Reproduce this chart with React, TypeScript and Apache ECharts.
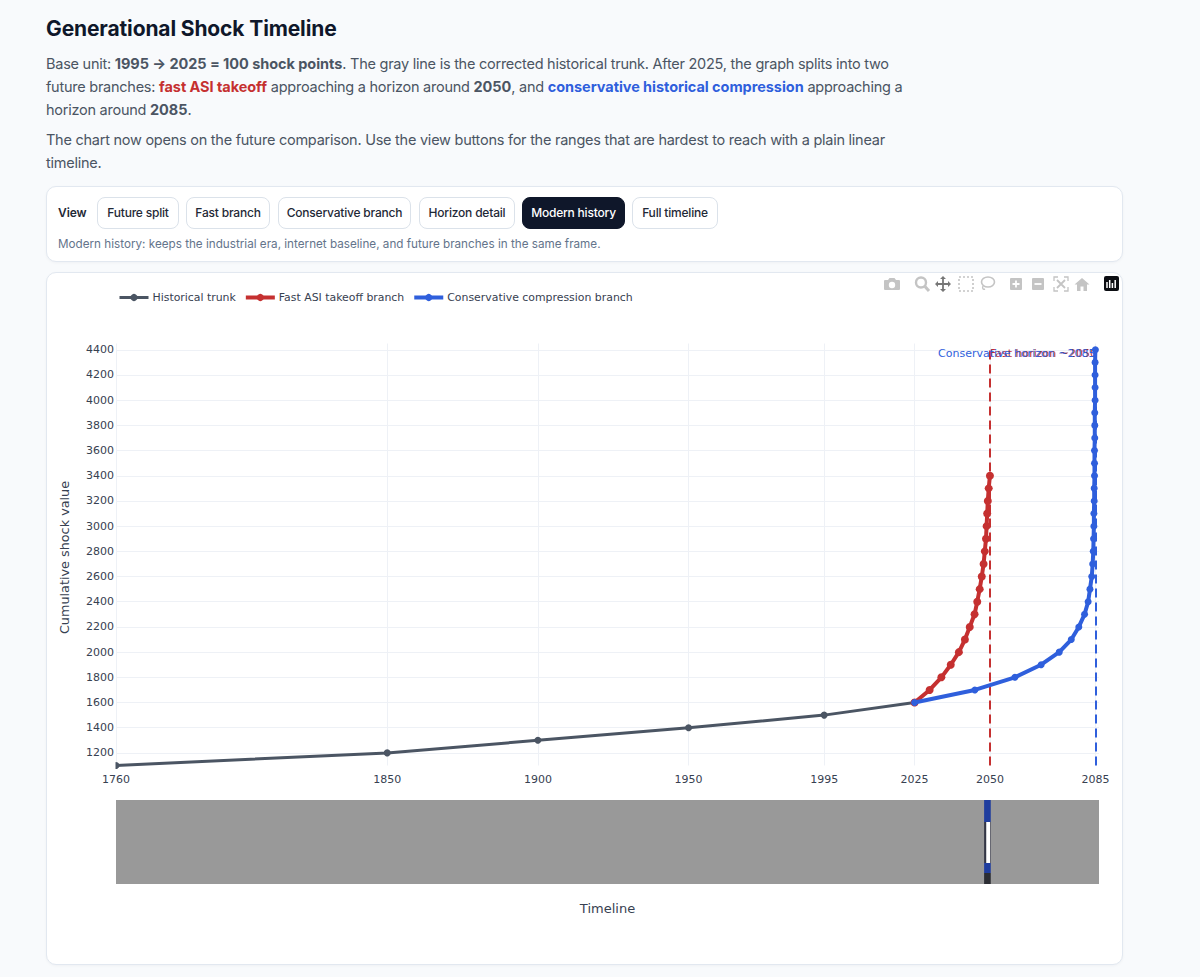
import React, { useEffect, useRef } from "react";
import * as echarts from "echarts";

const xTicks = [1760, 1850, 1900, 1950, 1995, 2025, 2050, 2085];
const yTicks = [1200, 1400, 1600, 1800, 2000, 2200, 2400, 2600, 2800, 3000, 3200, 3400, 3600, 3800, 4000, 4200, 4400];

const trunkYears = [1760, 1850, 1900, 1950, 1995, 2025];
const trunkValues = [1100, 1200, 1300, 1400, 1500, 1600];

const fastYears = [2025, 2030, 2033.9, 2037, 2039.7, 2041.7, 2043.3, 2044.9, 2045.8, 2046.6, 2047.3, 2047.9, 2048.3, 2048.7, 2048.9, 2049.1, 2049.3, 2049.6, 2050];
const fastValues = [1600, 1700, 1800, 1900, 2000, 2100, 2200, 2300, 2400, 2500, 2600, 2700, 2800, 2900, 3000, 3100, 3200, 3300, 3400];

const consYears = [2025, 2045, 2058.3, 2067, 2073, 2077, 2079.5, 2081.4, 2082.6, 2083.2, 2083.8, 2084.1, 2084.3, 2084.4, 2084.5, 2084.5, 2084.6, 2084.6, 2084.7, 2084.7, 2084.7, 2084.8, 2084.8, 2084.8, 2084.9, 2084.9, 2084.9, 2084.9, 2085];
const consValues = [1600, 1700, 1800, 1900, 2000, 2100, 2200, 2300, 2400, 2500, 2600, 2700, 2800, 2900, 3000, 3100, 3200, 3300, 3400, 3500, 3600, 3700, 3800, 3900, 4000, 4100, 4200, 4300, 4400];

const horizons = [
  { year: 2050, label: "Fast horizon ~2050", color: "#c53030" },
  { year: 2085, label: "Conservative horizon ~2085", color: "#2f5fdc" },
];

// [from year, to year, top, bottom, colour] in the range slider's own 0-84 scale
const sliderBands: [number, number, number, number, string][] = [
  [1760, 2086, 0, 84, "#999999"],
  [2047.9, 2050.1, 0, 22, "#1f3d9e"],
  [2047.9, 2050.1, 22, 63, "#333645"],
  [2048.6, 2049.9, 22, 63, "#ffffff"],
  [2047.9, 2050.1, 63, 73, "#1f3d9e"],
  [2047.9, 2050.1, 73, 84, "#2b2d33"],
];

const views = [
  { label: "Future split", left: 97, width: 82 },
  { label: "Fast branch", left: 186, width: 84 },
  { label: "Conservative branch", left: 278, width: 133 },
  { label: "Horizon detail", left: 419, width: 96 },
  { label: "Modern history", left: 522, width: 103, active: true },
  { label: "Full timeline", left: 632, width: 86 },
];

const SANS = "Inter, 'Noto Sans', sans-serif";
const PLOT = "'DejaVu Sans', sans-serif";

const pair = (xs: number[], ys: number[]) => xs.map((x, i) => [x, ys[i]]);

function Chart() {
  const ref = useRef<HTMLDivElement>(null);
  useEffect(() => {
    const chart = echarts.init(ref.current!, undefined, { renderer: "svg" });
    chart.setOption({
      animation: false,
      legend: {
        left: 72,
        top: 20,
        itemWidth: 29,
        itemHeight: 9,
        itemGap: 8,
        padding: 0,
        selectedMode: false,
        lineStyle: { width: "inherit" },
        textStyle: { fontFamily: PLOT, fontSize: 10.9, color: "#374151", padding: [0, 0, 0, -1] },
        data: ["Historical trunk", "Fast ASI takeoff branch", "Conservative compression branch"],
      },
      grid: [
        { left: 70, top: 71.5, width: 983, height: 422 },
        { left: 70, top: 528, width: 983, height: 84 },
      ],
      xAxis: [
        {
          type: "value",
          gridIndex: 0,
          min: 1760,
          max: 2086.2,
          name: "Timeline",
          nameLocation: "middle",
          nameGap: 136,
          nameTextStyle: { fontFamily: PLOT, fontSize: 13, color: "#374151" },
          axisLine: { show: false },
          axisTick: { show: false, customValues: xTicks },
          axisLabel: {
            customValues: xTicks,
            fontFamily: PLOT,
            fontSize: 11,
            color: "#374151",
            margin: 8,
            formatter: (v: number) => String(v),
            hideOverlap: false,
          },
          splitLine: { show: true, lineStyle: { color: "#eef1f6", width: 1 } },
        },
        { type: "value", gridIndex: 1, min: 1760, max: 2086, show: false, splitLine: { show: false } },
      ],
      yAxis: [
        {
          type: "value",
          gridIndex: 0,
          min: 1100,
          max: 4450,
          name: "Cumulative shock value",
          nameLocation: "middle",
          nameGap: 45,
          nameTextStyle: { fontFamily: PLOT, fontSize: 12.8, color: "#374151", padding: [0, 6, 0, 0] },
          axisLine: { show: false },
          axisTick: { show: false, customValues: yTicks },
          axisLabel: {
            customValues: yTicks,
            fontFamily: PLOT,
            fontSize: 11,
            color: "#374151",
            margin: 2,
            formatter: (v: number) => String(v),
          },
          splitLine: { show: true, lineStyle: { color: "#eef1f6", width: 1 } },
        },
        { type: "value", gridIndex: 1, min: 0, max: 84, inverse: true, show: false, splitLine: { show: false } },
      ],
      graphic: [
        { type: "rect", z: 100, shape: { x: 62, y: 488, width: 7.5, height: 11 }, style: { fill: "#fff" }, silent: true },
      ],
      series: [
        {
          name: "Historical trunk",
          type: "line",
          data: pair(trunkYears, trunkValues),
          symbol: "circle",
          symbolSize: 7,
          lineStyle: { color: "#4b5563", width: 3 },
          itemStyle: { color: "#4b5563" },
          z: 3,
        },
        {
          name: "Fast ASI takeoff branch",
          type: "line",
          data: pair(fastYears, fastValues),
          symbol: "circle",
          symbolSize: 8,
          lineStyle: { color: "#c53030", width: 4 },
          itemStyle: { color: "#c53030" },
          z: 4,
          markLine: {
            silent: true,
            symbol: "none",
            label: { show: false },
            lineStyle: { color: horizons[0].color, width: 2, type: [9, 5], opacity: 1 },
            data: [[{ coord: [horizons[0].year, 1100] }, { coord: [horizons[0].year, 4400] }]],
          },
          markPoint: {
            silent: true,
            symbol: "circle",
            symbolSize: 0,
            data: [{ coord: [horizons[0].year, 4400] }],
            label: {
              show: true,
              position: "right",
              distance: 0,
              offset: [0, 3.5],
              formatter: horizons[0].label,
              fontFamily: PLOT,
              fontSize: 11,
              color: horizons[0].color,
            },
          },
        },
        {
          name: "Conservative compression branch",
          type: "line",
          data: pair(consYears, consValues),
          symbol: "circle",
          symbolSize: 7,
          lineStyle: { color: "#2f5fdc", width: 4 },
          itemStyle: { color: "#2f5fdc" },
          z: 5,
          markLine: {
            silent: true,
            symbol: "none",
            label: { show: false },
            lineStyle: { color: horizons[1].color, width: 2, type: [9, 5], opacity: 1 },
            data: [[{ coord: [horizons[1].year, 1100] }, { coord: [horizons[1].year, 4400] }]],
          },
          markPoint: {
            silent: true,
            symbol: "circle",
            symbolSize: 0,
            data: [{ coord: [horizons[1].year, 4400] }],
            label: {
              show: true,
              position: "left",
              distance: 0,
              offset: [0, 3.5],
              formatter: horizons[1].label,
              fontFamily: PLOT,
              fontSize: 11,
              color: horizons[1].color,
            },
          },
        },
        {
          type: "custom",
          xAxisIndex: 1,
          yAxisIndex: 1,
          silent: true,
          legendHoverLink: false,
          data: sliderBands,
          encode: { x: [0, 1], y: [2, 3] },
          renderItem: (_p: any, api: any) => {
            const a = api.coord([api.value(0), api.value(2)]);
            const b = api.coord([api.value(1), api.value(3)]);
            return {
              type: "rect",
              shape: { x: a[0], y: a[1], width: b[0] - a[0], height: b[1] - a[1] },
              style: { fill: sliderBands[_p.dataIndex][4] },
            };
          },
        },
      ],
    });
    return () => chart.dispose();
  }, []);
  return <div ref={ref} style={{ position: "absolute", left: 0, top: 0, width: 1077, height: 693 }} />;
}

function Modebar() {
  const g = "#c4c4c4";
  return (
    <svg width={245} height={22} style={{ position: "absolute", left: 880, top: 273 }}>
      {/* camera */}
      <path d="M5 7h3l1.5-2h5L16 7h3a1 1 0 0 1 1 1v8a1 1 0 0 1-1 1H5a1 1 0 0 1-1-1V8a1 1 0 0 1 1-1z" fill={g} />
      <circle cx={12} cy={12} r={3.2} fill="#fff" />
      {/* zoom */}
      <circle cx={41} cy={9.5} r={5} fill="none" stroke={g} strokeWidth={2.4} />
      <path d="M45 13.5l4 4.5" stroke={g} strokeWidth={3} />
      {/* pan */}
      <path d="M56 11h14M63 4v14" stroke="#777" strokeWidth={1.8} />
      <path d="M63 3l-3 3h6zM63 19l-3-3h6zM55 11l3-3v6zM71 11l-3-3v6z" fill="#777" />
      {/* box select */}
      <rect x={79} y={4} width={14} height={14} fill="none" stroke={g} strokeWidth={1.6} strokeDasharray="2 2" />
      {/* lasso */}
      <ellipse cx={108} cy={9} rx={6.5} ry={5} fill="none" stroke={g} strokeWidth={1.6} />
      <path d="M103 13c-1 2 0 4 2 3" fill="none" stroke={g} strokeWidth={1.4} />
      {/* zoom in */}
      <rect x={130} y={5} width={12} height={12} rx={1} fill={g} />
      <path d="M136 7.5v7M132.5 11h7" stroke="#fff" strokeWidth={1.8} />
      {/* zoom out */}
      <rect x={152} y={5} width={12} height={12} rx={1} fill={g} />
      <path d="M154.5 11h7" stroke="#fff" strokeWidth={1.8} />
      {/* autoscale */}
      <path d="M174 8V4h4M184 4h4v4M188 14v4h-4M178 18h-4v-4" fill="none" stroke={g} strokeWidth={1.3} />
      <path d="M177 7l8 8M185 7l-8 8" stroke={g} strokeWidth={1.8} />
      {/* home */}
      <path d="M202 5l7.5 6.5H207V18h-3.5v-4.5h-3V18H197v-6.5h-2.5z" fill={g} />
      {/* logo */}
      <rect x={224} y={3} width={15} height={15} rx={2} fill="#0b0d12" />
      <path d="M227 9v6M229.7 7v8M232.4 10v5M235.2 7v8" stroke="#fff" strokeWidth={1.5} />
    </svg>
  );
}

const lineStyle = (top: number): React.CSSProperties => ({
  position: "absolute",
  left: 46,
  top,
  height: 23,
  lineHeight: "23px",
  whiteSpace: "nowrap",
  fontFamily: SANS,
  fontSize: 14.5,
  letterSpacing: -0.25,
  color: "#4b5563",
});

const Strong = ({ color, children }: { color?: string; children: React.ReactNode }) => (
  <b style={{ color, letterSpacing: -0.05 }}>{children}</b>
);

export default function App() {
  useEffect(() => {
    document.body.style.margin = "0";
    document.body.style.background = "#f8fafc";
    document.body.style.overflow = "hidden";
  }, []);
  return (
    <div style={{ position: "relative", width: 1200, height: 977, background: "#f8fafc", overflow: "hidden" }}>
      <div style={{ position: "absolute", left: 46, top: 14, lineHeight: "30px", fontFamily: SANS, fontSize: 21, fontWeight: 700, letterSpacing: -0.13, color: "#0f172a", whiteSpace: "nowrap" }}>
        Generational Shock Timeline
      </div>
      <div style={lineStyle(52)}>
        Base unit: <Strong>1995 → 2025 = 100 shock points</Strong>. The gray line is the corrected historical trunk. After 2025, the graph splits into two
      </div>
      <div style={lineStyle(75)}>
        future branches: <Strong color="#c53030">fast ASI takeoff</Strong> approaching a horizon around <Strong>2050</Strong>, and <Strong color="#2f5fdc">conservative historical compression</Strong> approaching a
      </div>
      <div style={lineStyle(98)}>
        horizon around <Strong>2085</Strong>.
      </div>
      <div style={lineStyle(127.5)}>
        The chart now opens on the future comparison. Use the view buttons for the ranges that are hardest to reach with a plain linear
      </div>
      <div style={lineStyle(150.5)}>timeline.</div>

      <div style={{ position: "absolute", left: 46, top: 186, width: 1077, height: 75.5, boxSizing: "border-box", background: "#fff", border: "1px solid #e2e8f0", borderRadius: 10, boxShadow: "0 1px 3px rgba(15,23,42,0.04)" }} />
      <div style={{ position: "absolute", left: 58, top: 204, lineHeight: "18px", fontFamily: SANS, fontSize: 12, fontWeight: 600, letterSpacing: -0.1, color: "#1f2937" }}>View</div>
      {views.map((v) => (
        <div
          key={v.label}
          style={{
            position: "absolute",
            left: v.left,
            top: 197,
            width: v.width,
            height: 32,
            boxSizing: "border-box",
            borderRadius: 8,
            border: v.active ? "1px solid #0f172a" : "1px solid #dbe2ea",
            background: v.active ? "#0f172a" : "#fff",
            color: v.active ? "#fff" : "#1f2937",
            fontFamily: SANS,
            fontSize: 12,
            letterSpacing: -0.2,
            fontWeight: 500,
            lineHeight: "30.5px",
            textAlign: "center",
            whiteSpace: "nowrap",
          }}
        >
          {v.label}
        </div>
      ))}
      <div style={{ position: "absolute", left: 58, top: 235, lineHeight: "18px", fontFamily: SANS, fontSize: 11.7, color: "#64748b", whiteSpace: "nowrap" }}>
        Modern history: keeps the industrial era, internet baseline, and future branches in the same frame.
      </div>

      <div style={{ position: "absolute", left: 46, top: 271.5, width: 1077, height: 693.5, boxSizing: "border-box", background: "#fff", border: "1px solid #e2e8f0", borderRadius: 10, overflow: "hidden", boxShadow: "0 1px 3px rgba(15,23,42,0.04)" }}>
        <div style={{ position: "absolute", left: -1, top: -0.5, width: 1077, height: 693 }}>
          <Chart />
        </div>
      </div>
      <Modebar />
    </div>
  );
}
